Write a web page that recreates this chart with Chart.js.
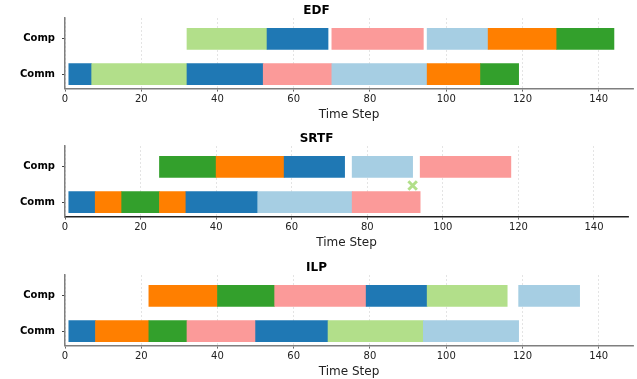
<!DOCTYPE html>
<html>
<head>
<meta charset="utf-8">
<script src="https://cdn.jsdelivr.net/npm/chart.js@4/dist/chart.umd.min.js"></script>
<style>
  body { margin: 0; background: #fff; }
  #wrap { position: relative; width: 637px; height: 379px; }
  canvas { position: absolute; left: 0; }
</style>
</head>
<body>
<div id="wrap">
  <canvas id="c0" width="637" height="122" style="top:0px"></canvas>
  <canvas id="c1" width="637" height="122" style="top:128px"></canvas>
  <canvas id="c2" width="637" height="122" style="top:257px"></canvas>
</div>
<script>
"use strict";
const rows = ['Comm', 'Comp'];
const xTicks = [0, 20, 40, 60, 80, 100, 120, 140];
const schedulers = ['EDF', 'SRTF', 'ILP'];

// [start, end, task]
const edfComm = [[1, 7, 'B'], [7, 32, 'LG'], [32, 52, 'B'], [52, 70, 'P'], [70, 95, 'LB'], [95, 109, 'O'], [109, 119, 'G']];
const edfComp = [[32, 53, 'LG'], [53, 69, 'B'], [70, 94, 'P'], [95, 111, 'LB'], [111, 129, 'O'], [129, 144, 'G']];
const srtfComm = [[1, 8, 'B'], [8, 15, 'O'], [15, 25, 'G'], [25, 32, 'O'], [32, 51, 'B'], [51, 76, 'LB'], [76, 94, 'P']];
const srtfComp = [[25, 40, 'G'], [40, 58, 'O'], [58, 74, 'B'], [76, 92, 'LB'], [94, 118, 'P']];
const ilpComm = [[1, 8, 'B'], [8, 22, 'O'], [22, 32, 'G'], [32, 50, 'P'], [50, 69, 'B'], [69, 94, 'LG'], [94, 119, 'LB']];
const ilpComp = [[22, 40, 'O'], [40, 55, 'G'], [55, 79, 'P'], [79, 95, 'B'], [95, 116, 'LG'], [119, 135, 'LB']];
const srtfMarks = [{x: 92, y: 0.47}];

const taskColors = {B: '#1f78b4', LG: '#b2df8a', P: '#fb9a99', LB: '#a6cee3', O: '#ff7f00', G: '#33a02c'};

const plots = [
    {comm: edfComm, comp: edfComp, marks: [], bottom: '#7f7f7f'},
    {comm: srtfComm, comp: srtfComp, marks: srtfMarks, bottom: '#222222'},
    {comm: ilpComm, comp: ilpComp, marks: [], bottom: '#7f7f7f'}
];

function segments(plot) {
    const out = [];
    plot.comm.forEach(s => out.push({x: [s[0], s[1]], y: 0, task: s[2]}));
    plot.comp.forEach(s => out.push({x: [s[0], s[1]], y: 1, task: s[2]}));
    return out;
}

plots.forEach((plot, i) => {
    const segs = segments(plot);
    const datasets = [{
        type: 'bar',
        indexAxis: 'y',
        data: segs,
        backgroundColor: segs.map(s => taskColors[s.task]),
        borderWidth: 0,
        barThickness: 21,
        order: 2
    }];
    if (plot.marks.length) {
        datasets.push({
            type: 'scatter',
            data: plot.marks,
            pointStyle: 'crossRot',
            radius: 6,
            borderWidth: 3,
            borderColor: '#b2df8a',
            backgroundColor: '#b2df8a',
            order: 1
        });
    }
    new Chart(document.getElementById('c' + i), {
        type: 'bar',
        data: {datasets: datasets},
        options: {
            responsive: false,
            animation: false,
            layout: {padding: {top: 0, right: 4, bottom: 0, left: 0}},
            plugins: {
                legend: {display: false},
                tooltip: {enabled: false},
                title: {
                    display: true,
                    text: schedulers[i],
                    color: '#000',
                    font: {family: 'DejaVu Sans', size: 12, weight: 'bold'},
                    padding: {top: 3.5, bottom: 0.1}
                }
            },
            scales: {
                x: {
                    type: 'linear',
                    min: 0,
                    max: 149,
                    offset: false,
                    afterBuildTicks: axis => { axis.ticks = xTicks.map(v => ({value: v})); },
                    ticks: {
                        color: '#222',
                        padding: 2,
                        font: {family: 'DejaVu Sans', size: 10}
                    },
                    grid: {
                        offset: false,
                        color: '#dddddd',
                        lineWidth: 0.8,
                        tickColor: '#444',
                        tickLength: 3,
                        tickWidth: 0.8,
                        tickBorderDash: []
                    },
                    border: {display: true, color: plot.bottom, width: 1.5, dash: [2, 2]},
                    title: {
                        display: true,
                        text: 'Time Step',
                        color: '#222',
                        font: {family: 'DejaVu Sans', size: 12},
                        padding: {top: 0, bottom: 0}
                    }
                },
                y: {
                    type: 'linear',
                    min: -0.41,
                    max: 1.59,
                    offset: false,
                    afterBuildTicks: axis => { axis.ticks = rows.map((r, k) => ({value: k})); },
                    afterFit: axis => { axis.width = 65; },
                    ticks: {
                        color: '#000',
                        padding: 7,
                        font: {family: 'DejaVu Sans', size: 10, weight: 'bold'},
                        callback: v => rows[v]
                    },
                    grid: {
                        offset: false,
                        drawOnChartArea: false,
                        tickColor: '#444',
                        tickLength: 3
                    },
                    border: {display: true, color: '#7f7f7f', width: 1.5}
                }
            }
        }
    });
});
</script>
</body>
</html>
